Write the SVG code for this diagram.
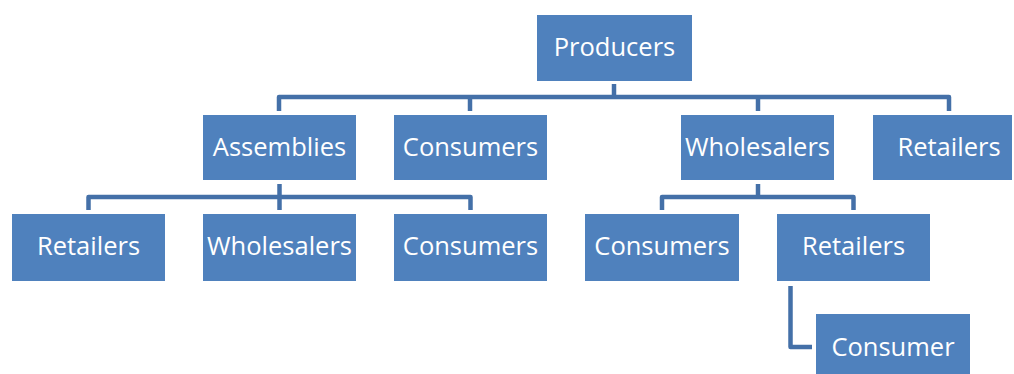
<svg xmlns="http://www.w3.org/2000/svg" width="1014" height="374" viewBox="0 0 1014 374">
  <style>
    .box { fill: #4F81BD; }
    .lbl { fill: #FFFFFF; font-family: "Open Sans", "Liberation Sans", sans-serif; font-size: 25.5px; text-anchor: middle; }
    .wire { fill: none; stroke: #4470A8; stroke-width: 4.5; stroke-linejoin: round; }
  </style>
  <rect width="1014" height="374" fill="#FFFFFF"/>

  <g id="connectors">
    <!-- Producers to second tier -->
    <path class="wire" d="M614,84 V97"/>
    <path class="wire" d="M279,111 V97 H949 V111"/>
    <path class="wire" d="M470,97 V111"/>
    <path class="wire" d="M758,97 V111"/>
    <!-- Assemblies to third tier -->
    <path class="wire" d="M279.5,184 V210"/>
    <path class="wire" d="M88.5,210 V197 H470.5 V210"/>
    <!-- Wholesalers to third tier -->
    <path class="wire" d="M758,184 V197"/>
    <path class="wire" d="M662,210 V197 H853.5 V210"/>
    <!-- Retailers to Consumer -->
    <path class="wire" d="M790.5,286 V347 H812"/>
  </g>

  <g id="producers">
    <rect class="box" x="537" y="15" width="155" height="66"/>
    <text class="lbl" x="614.5" y="55.5">Producers</text>
  </g>

  <g id="assemblies">
    <rect class="box" x="203" y="115" width="153" height="65"/>
    <text class="lbl" x="279.5" y="155.5">Assemblies</text>
  </g>
  <g id="consumers-top">
    <rect class="box" x="394" y="115" width="153" height="65"/>
    <text class="lbl" x="470.5" y="155.5">Consumers</text>
  </g>
  <g id="wholesalers-top">
    <rect class="box" x="681" y="115" width="153" height="65"/>
    <text class="lbl" x="757.5" y="155.5">Wholesalers</text>
  </g>
  <g id="retailers-top">
    <rect class="box" x="873" y="115" width="139" height="65"/>
    <text class="lbl" x="949" y="155.5">Retailers</text>
  </g>

  <g id="retailers-a">
    <rect class="box" x="12" y="214" width="153" height="67"/>
    <text class="lbl" x="88.5" y="254.5">Retailers</text>
  </g>
  <g id="wholesalers-a">
    <rect class="box" x="203" y="214" width="153" height="67"/>
    <text class="lbl" x="279.5" y="254.5">Wholesalers</text>
  </g>
  <g id="consumers-a">
    <rect class="box" x="394" y="214" width="153" height="67"/>
    <text class="lbl" x="470.5" y="254.5">Consumers</text>
  </g>
  <g id="consumers-w">
    <rect class="box" x="585" y="214" width="154" height="67"/>
    <text class="lbl" x="662" y="254.5">Consumers</text>
  </g>
  <g id="retailers-w">
    <rect class="box" x="777" y="214" width="153" height="67"/>
    <text class="lbl" x="853.5" y="254.5">Retailers</text>
  </g>

  <g id="consumer">
    <rect class="box" x="816" y="314" width="154" height="66"/>
    <text class="lbl" x="893" y="355.5">Consumer</text>
  </g>
</svg>
